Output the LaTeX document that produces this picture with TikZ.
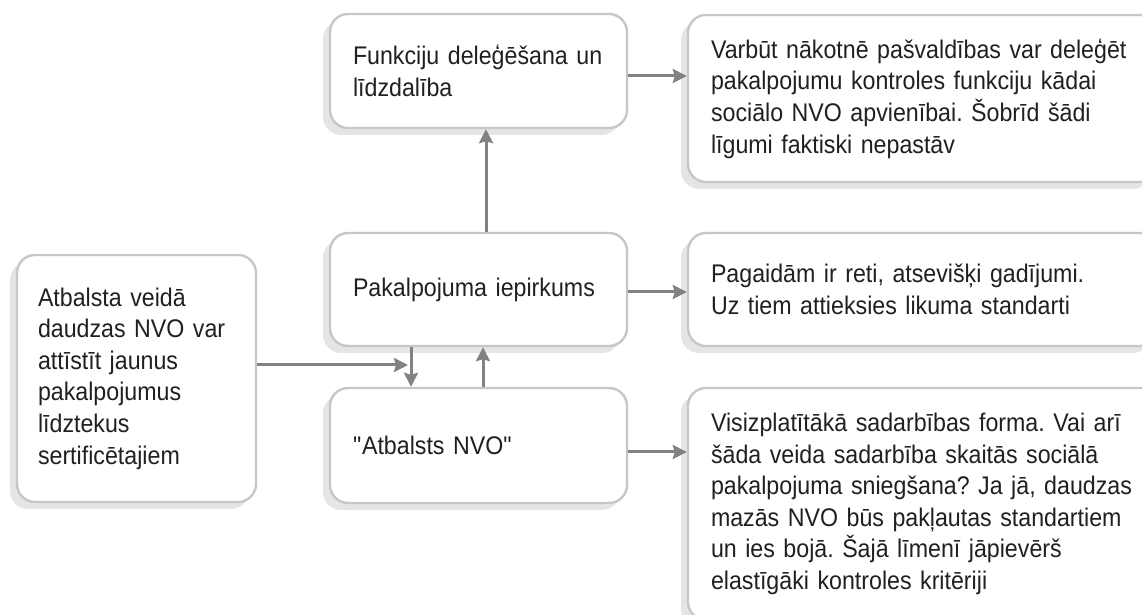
\documentclass[tikz,border=0pt]{standalone}
\usepackage{fontspec}
\setmainfont[FakeStretch=0.91]{Liberation Sans}
\usepackage{tikz}
\usetikzlibrary{arrows.meta,shadows,positioning}
\definecolor{boxline}{HTML}{C6C7C8}
\definecolor{shadowgray}{HTML}{E4E5E6}
\definecolor{arrowgray}{HTML}{808285}
\definecolor{textdark}{HTML}{231F20}
\frenchspacing

\begin{document}
\begin{tikzpicture}[
x=1pt, y=1pt,
font=\fontsize{25.5}{31.6}\selectfont,
panel/.style={draw=boxline, line width=2.4pt, fill=white, rounded corners=18pt,
  drop shadow={shadow xshift=-7pt, shadow yshift=-7pt, fill=shadowgray, opacity=1},
  align=left, inner xsep=0pt, inner ysep=0pt, text=textdark},
flow/.style={draw=arrowgray, line width=3pt, -{Stealth[length=14pt,width=14pt,inset=2pt]}}
]
    % Frame
    \useasboundingbox (0,0) rectangle (1142,615);
    \clip (0,0) rectangle (1142,615);

    % Left box
    \node[panel, minimum width=239pt, minimum height=247pt, text width=197pt] (lbox) at (136.5,236.5)
        {Atbalsta veidā\\daudzas NVO var\\attīstīt jaunus\\pakalpojumus\\līdztekus\\sertificētajiem};

    % Middle column
    \node[panel, minimum width=297pt, minimum height=114pt, text width=251pt] (fbox) at (478.5,544)
        {Funkciju deleģēšana un\\līdzdalība};
    \node[panel, minimum width=297pt, minimum height=113pt, text width=251pt] (pbox) at (478.5,325.5)
        {Pakalpojuma iepirkums};
    \node[panel, minimum width=297pt, minimum height=115pt, text width=251pt] (abox) at (478.5,169.5)
        {\textquotedbl Atbalsts NVO\textquotedbl};

    % Right column
    \node[panel, minimum width=470pt, minimum height=167pt, text width=424pt] (rtop) at (923,516.5)
        {Varbūt nākotnē pašvaldības var deleģēt\\pakalpojumu kontroles funkciju kādai\\sociālo NVO apvienībai. Šobrīd šādi\\līgumi faktiski nepastāv};
    \node[panel, minimum width=470pt, minimum height=113pt, text width=424pt] (rmid) at (923,325.5)
        {Pagaidām ir reti, atsevišķi gadījumi.\\Uz tiem attieksies likuma standarti};
    \node[panel, minimum width=470pt, minimum height=232pt, text width=424pt] (rbot) at (923,111)
        {Visizplatītākā sadarbības forma. Vai arī\\šāda veida sadarbība skaitās sociālā\\pakalpojuma sniegšana? Ja jā, daudzas\\mazās NVO būs pakļautas standartiem\\un ies bojā. Šajā līmenī jāpievērš\\elastīgāki kontroles kritēriji};

    % Arrows
    \coordinate (pdown) at ([xshift=-67.5pt]pbox.south);
    \draw[flow] ([yshift=-5pt]fbox.east) -- ([yshift=-5pt]fbox.east -| rtop.west);
    \draw[flow] ([yshift=-2.5pt]pbox.east) -- ([yshift=-2.5pt]pbox.east -| rmid.west);
    \draw[flow] ([yshift=-6.5pt]abox.east) -- ([yshift=-6.5pt]abox.east -| rbot.west);
    \draw[flow] ([xshift=7.5pt]pbox.north) -- ([xshift=7.5pt]fbox.south);
    \draw[flow] (pdown) -- (pdown |- abox.north);
    \draw[flow] ([xshift=4.5pt]abox.north) -- ([xshift=4.5pt]pbox.south);
    \draw[flow, shorten >=3pt] ([yshift=13.5pt]lbox.east) -- ([yshift=13.5pt]lbox.east -| pdown);

\end{tikzpicture}
\end{document}
